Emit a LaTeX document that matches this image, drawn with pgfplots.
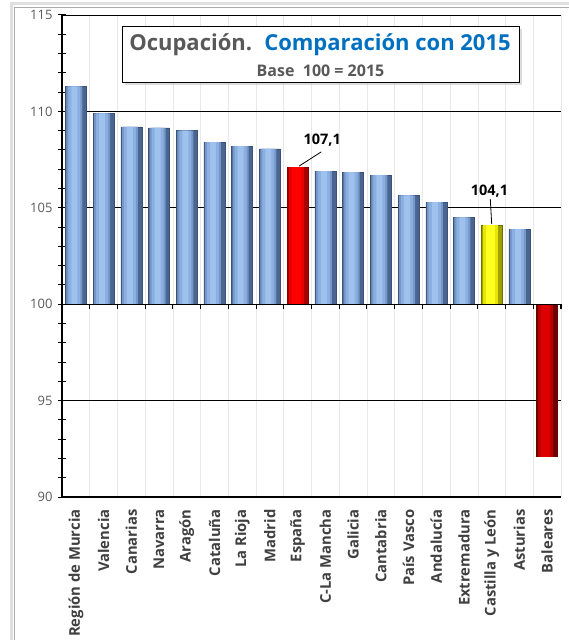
\documentclass[border=0pt]{standalone}
\usepackage{pgfplots}
\pgfplotsset{compat=1.18}
\usepackage{pgfplotstable}
\usepackage{fontspec}
\setmainfont{Open Sans}
\usetikzlibrary{shadows,calc}

\definecolor{tickgray}{HTML}{595959}
\definecolor{labgray}{HTML}{404040}
\definecolor{titlegray}{HTML}{595959}
\definecolor{titleblue}{HTML}{0070C0}
\definecolor{blueA}{HTML}{4A6690}
\definecolor{blueB}{HTML}{7596C6}
\definecolor{blueC}{HTML}{8AAFE0}
\definecolor{blueD}{HTML}{9EC1EE}
\definecolor{blueline}{HTML}{3A5278}
\definecolor{redA}{HTML}{A80000}
\definecolor{redB}{HTML}{E60000}
\definecolor{redC}{HTML}{FF0000}
\definecolor{yelA}{HTML}{A0A000}
\definecolor{yelB}{HTML}{E6E600}
\definecolor{yelC}{HTML}{FFFF20}
\definecolor{drA}{HTML}{700000}
\definecolor{drB}{HTML}{B80000}
\definecolor{drC}{HTML}{DE0000}

% x = category position, v = index (base 100 = 2015)
\pgfplotstableread{
x v
0 111.3
1 109.9
2 109.2
3 109.15
4 109.0
5 108.4
6 108.2
7 108.05
9 106.9
10 106.85
11 106.7
12 105.65
13 105.3
14 104.5
16 103.9
}\bluedata
\pgfplotstableread{
x v
8 107.1
}\spaindata
\pgfplotstableread{
x v
15 104.1
}\cyldata
\pgfplotstableread{
x v
17 92.1
}\baldata

\begin{document}
\begin{tikzpicture}[x=1pt,y=1pt]
\begin{axis}[
  scale only axis, width=499pt, height=482pt,
  xmin=-0.5, xmax=17.5, ymin=-10, ymax=15,
  axis x line*=bottom, axis y line*=left,
  axis line style={black, line width=1.2pt},
  ytick={-10,-5,...,15},
  yticklabels={90,95,100,105,110,115},
  minor y tick num=4,
  tick align=center,
  major tick length=8pt, minor tick length=8pt,
  y tick style={black, line width=1pt},
  ymajorgrids,
  major y grid style={black, line width=0.8pt},
  xtick={0,...,17},
  xticklabels={{Región de Murcia},{Valencia},{Canarias},{Navarra},{Aragón},{Cataluña},{La Rioja},{Madrid},{España},{C-La Mancha},{Galicia},{Cantabria},{País Vasco},{Andalucía},{Extremadura},{Castilla y León},{Asturias},{Baleares}},
  x tick style={draw=none},
  minor xtick={-0.5,0.5,...,17.5},
  xminorgrids,
  minor x grid style={gray!18, line width=0.6pt},
  /pgf/number format/assume math mode=true,
  yticklabel style={font=\fontsize{13}{13}\selectfont, text=tickgray, xshift=-2pt},
  xticklabel style={rotate=90, anchor=east, font=\bfseries\fontsize{14.8}{14.8}\selectfont, text=labgray, xshift=-1pt},
  clip=false,
  ybar, bar shift=0pt,
]
% blue bars (layered for a cylindrical shading)
\addplot[ybar, bar shift=0pt, bar width=21pt, draw=blueline, line width=0.4pt, fill=blueA] table[x=x, y expr=\thisrow{v}-100] {\bluedata};
\addplot[ybar, bar shift=-1.5pt, bar width=16pt, draw=none, fill=blueB] table[x=x, y expr=\thisrow{v}-100] {\bluedata};
\addplot[ybar, bar shift=-1.5pt, bar width=12pt, draw=none, fill=blueC] table[x=x, y expr=\thisrow{v}-100] {\bluedata};
\addplot[ybar, bar shift=-1.5pt, bar width=6pt, draw=none, fill=blueD] table[x=x, y expr=\thisrow{v}-100] {\bluedata};
% Spain
\addplot[ybar, bar shift=0pt, bar width=21pt, draw=redA!80!black, line width=0.4pt, fill=redA] table[x=x, y expr=\thisrow{v}-100] {\spaindata};
\addplot[ybar, bar shift=-1.5pt, bar width=15pt, draw=none, fill=redB] table[x=x, y expr=\thisrow{v}-100] {\spaindata};
\addplot[ybar, bar shift=-1.5pt, bar width=9pt, draw=none, fill=redC] table[x=x, y expr=\thisrow{v}-100] {\spaindata};
% Castilla y Leon
\addplot[ybar, bar shift=0pt, bar width=21pt, draw=yelA!70!black, line width=0.4pt, fill=yelA] table[x=x, y expr=\thisrow{v}-100] {\cyldata};
\addplot[ybar, bar shift=-1.5pt, bar width=15pt, draw=none, fill=yelB] table[x=x, y expr=\thisrow{v}-100] {\cyldata};
\addplot[ybar, bar shift=-1.5pt, bar width=9pt, draw=none, fill=yelC] table[x=x, y expr=\thisrow{v}-100] {\cyldata};
% Baleares
\addplot[ybar, bar shift=0pt, bar width=21pt, draw=drA, line width=0.4pt, fill=drA] table[x=x, y expr=\thisrow{v}-100] {\baldata};
\addplot[ybar, bar shift=-1.5pt, bar width=15pt, draw=none, fill=drB] table[x=x, y expr=\thisrow{v}-100] {\baldata};
\addplot[ybar, bar shift=-1.5pt, bar width=9pt, draw=none, fill=drC] table[x=x, y expr=\thisrow{v}-100] {\baldata};
\draw[black, line width=1.2pt] (axis cs:-0.5,0) -- (axis cs:17.5,0);
\pgfplotsinvokeforeach{-0.5,0.5,1.5,2.5,3.5,4.5,5.5,6.5,7.5,8.5,9.5,10.5,11.5,12.5,13.5,14.5,15.5,16.5,17.5}{\draw[black, line width=1.1pt] (axis cs:#1,0) -- (axis cs:#1,-0.27);}
\node[font=\bfseries\fontsize{14.5}{14.5}\selectfont] at (axis cs:8.89,8.5) {107,1};
\draw[black, line width=0.8pt] (axis cs:8.85,7.9) -- (axis cs:8.05,7.16);
\node[font=\bfseries\fontsize{14.5}{14.5}\selectfont] at (axis cs:14.92,5.86) {104,1};
\draw[black, line width=0.8pt] (axis cs:14.95,5.45) -- (axis cs:15.0,4.15);
\coordinate (boxsw) at (axis cs:-0.5,-10);
\end{axis}
\coordinate (O) at ($(boxsw)+(-62,-143)$);
\begin{scope}[shift={(O)}]
\draw[gray!25, line width=3pt] (11.5,-10) -- (11.5,636) -- (600,636);
\draw[gray!65, line width=0.8pt] (14,-10) -- (14,633) -- (600,633);
\node[draw=black, line width=1pt, fill=white, drop shadow={shadow xshift=2.5pt, shadow yshift=-2.5pt, fill=gray!55}, minimum width=397pt, minimum height=56pt, inner sep=0pt] at (320.5,585) {};
\node at (320,595) {\bfseries\fontsize{22}{22}\selectfont\textcolor{titlegray}{Ocupación.}\hspace{0.55em}\textcolor{titleblue}{Comparación con 2015}};
\node at (320.5,569) {\bfseries\fontsize{16}{16}\selectfont\color{titlegray}Base\ \ 100 = 2015};
\end{scope}
\pgfresetboundingbox
\path[use as bounding box] (O) rectangle ($(O)+(569,640)$);
\end{tikzpicture}
\end{document}
